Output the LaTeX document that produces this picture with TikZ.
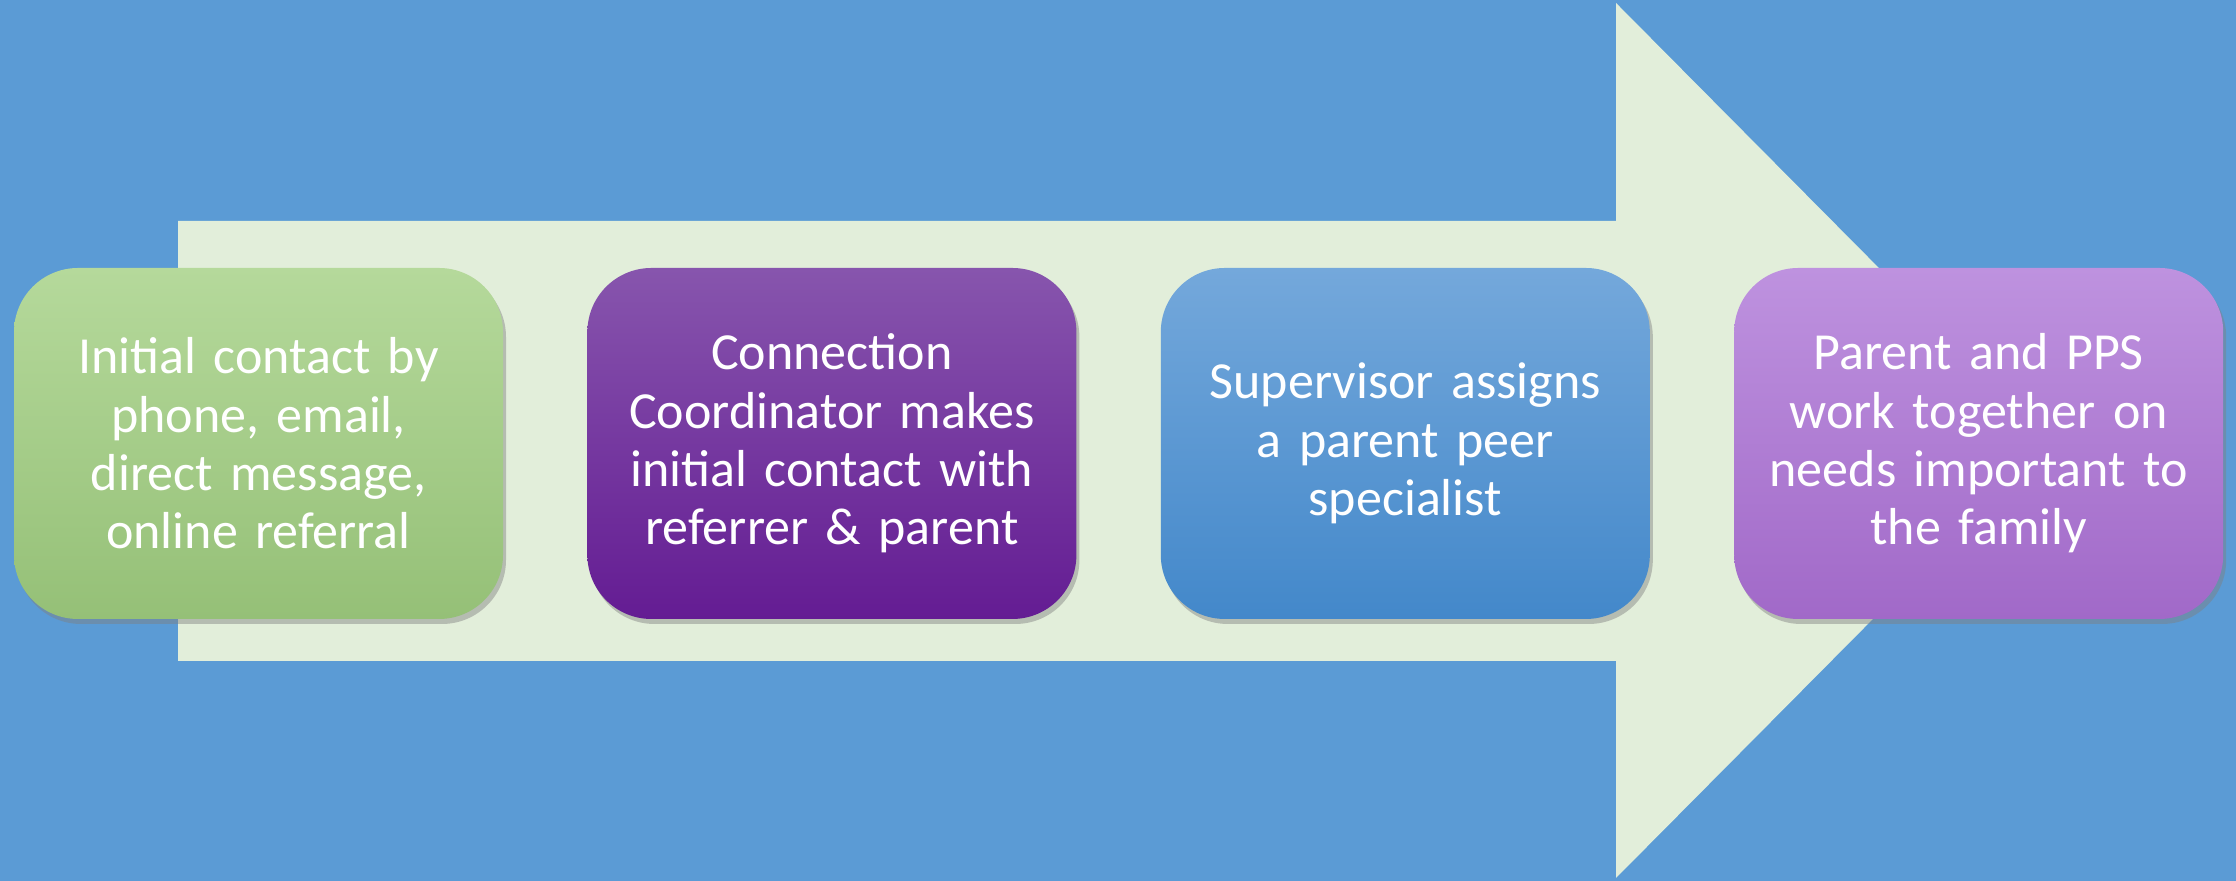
\documentclass[tikz,border=0pt]{standalone}
\usepackage{fontspec}
\setmainfont{Carlito}
\usetikzlibrary{positioning,shadows}
\definecolor{bgblue}{HTML}{5B9BD5}
\definecolor{arrowgreen}{HTML}{E2EEDA}
\definecolor{greentop}{HTML}{B5D99B}
\definecolor{greenbot}{HTML}{95C077}
\definecolor{purptop}{HTML}{8755AD}
\definecolor{purpbot}{HTML}{641C93}
\definecolor{bluetop}{HTML}{74A8DB}
\definecolor{bluebot}{HTML}{4388CA}
\definecolor{lavtop}{HTML}{BE92DF}
\definecolor{lavbot}{HTML}{A169C8}
\begin{document}
\begin{tikzpicture}[node distance=0.83cm,
    stepbox/.style={rectangle, rounded corners=0.64cm, minimum width=4.89cm, minimum height=3.51cm,
        inner sep=0pt, text width=4.6cm, align=center, text=white, font=\fontsize{14.8}{16.6}\selectfont,
        drop shadow={shadow xshift=0.03cm, shadow yshift=-0.05cm, opacity=0.45}}]
    \useasboundingbox (0,0) rectangle (22.36,8.81);
    \fill[bgblue] (0,0) rectangle (22.36,8.81);
    % big arrow behind the steps
    \fill[arrowgreen] (1.78,2.2) -- (16.16,2.2) -- (16.16,0.03) -- (20.5,4.405)
        -- (16.16,8.78) -- (16.16,6.6) -- (1.78,6.6) -- cycle;
    \node[stepbox, top color=greentop, bottom color=greenbot] (contact) at (2.585,4.375)
        {Initial contact by\\phone, email,\\direct message,\\online referral};
    \node[stepbox, top color=purptop, bottom color=purpbot, right=of contact] (coord)
        {Connection\\Coordinator makes\\initial contact with\\referrer \& parent};
    \node[stepbox, top color=bluetop, bottom color=bluebot, right=of coord] (assign)
        {Supervisor assigns\\a parent peer\\specialist};
    \node[stepbox, top color=lavtop, bottom color=lavbot, right=of assign] (together)
        {Parent and PPS\\work together on\\needs important to\\the family};
\end{tikzpicture}
\end{document}
